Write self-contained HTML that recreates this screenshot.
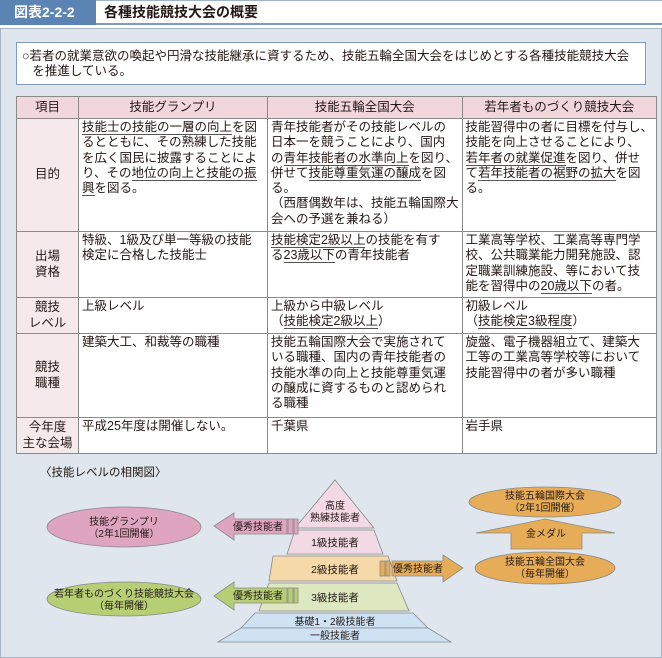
<!DOCTYPE html>
<html><head><meta charset="utf-8">
<style>
*{margin:0;padding:0;box-sizing:border-box}
body{width:662px;height:658px;background:#fff;font-family:"Liberation Sans","Noto Sans CJK JP",sans-serif;color:#231815;position:relative;overflow:hidden}
.lab{position:absolute;left:0;top:0;width:96px;height:25px;background:#5b84b5;color:#fff;font-size:14px;font-weight:bold;line-height:25px;padding-left:14px}
.tbar{position:absolute;left:96px;top:0;width:566px;height:25px;border-top:1px solid #9fb4cc;border-bottom:2px solid #7f9cc0;font-size:14px;font-weight:bold;line-height:23px;padding-left:8px}
.frame{position:absolute;left:0;top:28px;width:662px;height:630px;background:#dfe6ee;border:1px solid #a8b4c0}
.intro{position:absolute;left:16px;top:42px;width:630px;height:43px;background:#fff;border:1px solid #7f9cc0;font-size:12.5px;line-height:15px;padding:6px 0 0 5px;white-space:nowrap}
table{position:absolute;left:16px;top:96px;border-collapse:collapse;background:#fff;font-size:12.5px;line-height:15.3px;table-layout:fixed}
td,th{border:1px solid #8a8a8a;vertical-align:top;padding:1px 3px 0;white-space:nowrap;font-weight:normal;overflow:hidden}
th{background:#f1d6db;text-align:center;vertical-align:middle;height:22px;padding:0}
td.h{background:#f6e9eb;text-align:center;vertical-align:middle;padding:0}
u{text-decoration:none;border-bottom:1px solid #555}
svg{position:absolute;left:0;top:0}
</style></head><body>
<div class="lab">図表2-2-2</div>
<div class="tbar">各種技能競技大会の概要</div>
<div class="frame"></div>
<div class="intro">○若者の就業意欲の喚起や円滑な技能継承に資するため、技能五輪全国大会をはじめとする各種技能競技大会<br>&nbsp;&nbsp;&nbsp;を推進している。</div>
<table>
<colgroup><col style="width:62px"><col style="width:189px"><col style="width:190px"><col style="width:189px"></colgroup>
<tr style="height:22px"><th>項目</th><th>技能グランプリ</th><th>技能五輪全国大会</th><th>若年者ものづくり競技大会</th></tr>
<tr style="height:113px"><td class="h">目的</td>
<td><u>技能士の技能の一層の向上</u>を図<br>るとともに、その熟練した技能<br>を広く国民に披露することによ<br>り、その<u>地位の向上と技能の振</u><br><u>興</u>を図る。</td>
<td>青年技能者がその技能レベルの<br>日本一を競うことにより、国内<br>の<u>青年技能者の水準向上</u>を図り、<br>併せて<u>技能尊重気運の醸成</u>を図<br>る。<br>（西暦偶数年は、技能五輪国際大<br>会への予選を兼ねる）</td>
<td>技能習得中の者に目標を付与し、<br>技能を向上させることにより、<br><u>若年者の就業促進</u>を図り、併せ<br>て<u>若年技能者の裾野の拡大</u>を図<br>る。</td></tr>
<tr style="height:66px"><td class="h">出場<br>資格</td>
<td>特級、1級及び単一等級の技能<br>検定に合格した技能士</td>
<td><u>技能検定2級以上</u>の技能を有す<br>る<u>23歳以下</u>の青年技能者</td>
<td>工業高等学校、工業高等専門学<br>校、公共職業能力開発施設、認<br>定職業訓練施設、等において技<br>能を習得中の<u>20歳以下</u>の者。</td></tr>
<tr style="height:36px"><td class="h">競技<br>レベル</td><td>上級レベル</td><td>上級から中級レベル<br>（<u>技能検定2級以上</u>）</td><td>初級レベル<br>（<u>技能検定3級程度</u>）</td></tr>
<tr style="height:84px"><td class="h">競技<br>職種</td><td>建築大工、和裁等の職種</td>
<td>技能五輪国際大会で実施されて<br>いる職種、国内の青年技能者の<br>技能水準の向上と技能尊重気運<br>の醸成に資するものと認められ<br>る職種</td>
<td>旋盤、電子機器組立て、建築大<br>工等の工業高等学校等において<br>技能習得中の者が多い職種</td></tr>
<tr style="height:36px"><td class="h">今年度<br>主な会場</td><td>平成25年度は開催しない。</td><td>千葉県</td><td>岩手県</td></tr>
</table>
<svg width="662" height="658" font-family="Liberation Sans, Noto Sans CJK JP, sans-serif" font-size="10" text-anchor="middle" fill="#231815">
<text x="40" y="476" font-size="11.5" text-anchor="start">〈技能レベルの相関図〉</text>
<g stroke="#8a8a8a" stroke-width="0.8">
<polygon points="335,480 374,528 295,528" fill="#f2d9e4"/>
<polygon points="295,530 374,530 383,554 287,554" fill="#f2d9e4"/>
<polygon points="273,556 388,556 397,581 269,581" fill="#f5d9a8"/>
<polygon points="269,583 397,583 409,611 259,611" fill="#dde8c0"/>
<polygon points="255,613 413,613 428,628 241,628" fill="#cfe2f4"/>
<polygon points="241,628 428,628 451,642 218,642" fill="#cfe2f4"/>
<ellipse cx="124" cy="527" rx="77" ry="20" fill="#dfa4c0"/>
<ellipse cx="124" cy="599" rx="77" ry="17" fill="#b6cf74"/>
<ellipse cx="545" cy="502" rx="76" ry="15" fill="#e6ac57"/>
<ellipse cx="545" cy="568" rx="70" ry="16" fill="#e6ac57"/>
<polygon points="214,526 234,513 234,519 287,519 287,534 234,534 234,540" fill="#dfa4c0"/>
<rect x="288" y="519" width="5" height="15" fill="#dfa4c0"/><rect x="294" y="519" width="4" height="15" fill="#dfa4c0"/>
<polygon points="214,596 234,582 234,588 287,588 287,603 234,603 234,610" fill="#b6cf74"/>
<rect x="288" y="588" width="5" height="15" fill="#b6cf74"/><rect x="294" y="588" width="4" height="15" fill="#b6cf74"/>
<rect x="380" y="561" width="5" height="15" fill="#e6ac57"/><rect x="386" y="561" width="4" height="15" fill="#e6ac57"/>
<polygon points="392,561 443,561 443,555 463,568 443,582 443,576 392,576" fill="#e6ac57"/>
<polygon points="545,519 615,533 582,533 582,549 511,549 511,533 476,533" fill="#e6ac57"/>
</g>
<text x="335" y="509">高度</text><text x="335" y="521">熟練技能者</text>
<text x="335" y="546" font-size="10.5">1級技能者</text>
<text x="335" y="573" font-size="10.5">2級技能者</text>
<text x="335" y="601" font-size="10.5">3級技能者</text>
<text x="335" y="625">基礎1・2級技能者</text>
<text x="335" y="639">一般技能者</text>
<text x="124" y="525">技能グランプリ</text><text x="124" y="537">（2年1回開催）</text>
<text x="124" y="597">若年者ものづくり技能競技大会</text><text x="124" y="609">（毎年開催）</text>
<text x="545" y="499">技能五輪国際大会</text><text x="545" y="511">（2年1回開催）</text>
<text x="545" y="565">技能五輪全国大会</text><text x="545" y="577">（毎年開催）</text>
<text x="258" y="530">優秀技能者</text>
<text x="258" y="599">優秀技能者</text>
<text x="418" y="572">優秀技能者</text>
<text x="546" y="537">金メダル</text>
</svg>
</body></html>
